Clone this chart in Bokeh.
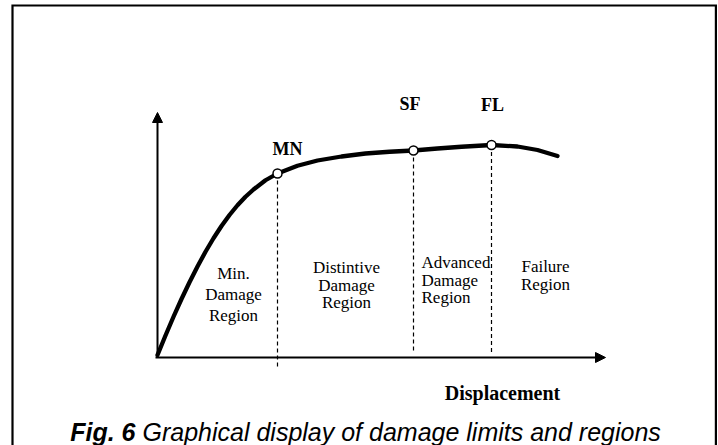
from bokeh.plotting import figure
from bokeh.models import Range1d, Arrow, NormalHead, Label
from bokeh.core.properties import value
from bokeh.embed import file_html
from bokeh.resources import INLINE

# ---- data (schematic capacity curve, arbitrary units) ----
displacement = [0, 2, 4, 6, 8, 10, 12, 14, 16, 18, 20, 22, 24, 27, 30, 35, 40, 46, 52, 58, 64, 70, 76, 83.5, 90, 95, 100]
force = [1, 8.8, 16.3, 23.4, 30.1, 36.4, 42.3, 47.7, 52.6, 57.0, 60.9, 64.3, 67.2, 70.9, 73.6, 76.7, 78.8, 80.4, 81.6, 82.3, 82.8, 83.6, 84.3, 85.0, 84.4, 83.0, 80.6]

limit_names = ["MN", "SF", "FL"]
limit_disp = [30, 64, 83.5]
limit_force = [73.6, 82.8, 85.0]
limit_dash_bottom = [-4, 1.6, 1.6]
limit_label_x = [32.5, 63.1, 83.75]
limit_label_y = [83.3, 101.5, 101.2]

axis_x_end = 112
axis_y_end = 98

# region labels, one entry per text line
region_lines = ["Min.", "Damage", "Region",
                "Distintive", "Damage", "Region",
                "Failure", "Region"]
region_x = [19, 19, 19, 47.25, 47.25, 47.25, 97, 97]
region_y = [33.6, 25.4, 16.8, 36.0, 29.0, 22.0, 36.4, 29.4]

adv_lines = ["Advanced", "Damage", "Region"]
adv_x = [66, 66, 66]
adv_y = [38.0, 31.0, 24.0]

x_title = "Displacement"
caption_bold = "Fig. 6"
caption_rest = "Graphical display of damage limits and regions"

# frame (decorative border, open at the bottom like the cropped original)
frame_x = [-36.25, -36.25, 139.6, 139.6]
frame_y = [-60, 140.8, 140.8, -60]

# ---- figure ----
p = figure(width=718, height=445, output_backend="svg", toolbar_location=None,
           x_range=Range1d(-39.25, 140.25), y_range=Range1d(-35.2, 142.8),
           x_axis_type=None, y_axis_type=None, min_border=0)
p.grid.visible = False
p.outline_line_color = None
p.background_fill_color = "white"
p.border_fill_color = "white"

p.line(frame_x, frame_y, line_color="black", line_width=2.2, line_join="miter")

# axes arrows
p.add_layout(Arrow(end=NormalHead(size=10, fill_color="black", line_color="black"),
                   x_start=0, y_start=0, x_end=0, y_end=axis_y_end,
                   line_width=2, line_color="black"))
p.add_layout(Arrow(end=NormalHead(size=10, fill_color="black", line_color="black"),
                   x_start=-0.5, y_start=0, x_end=axis_x_end, y_end=0,
                   line_width=2, line_color="black"))

# dashed limit lines
p.segment(x0=limit_disp, y0=limit_force, x1=limit_disp, y1=limit_dash_bottom,
          line_color="black", line_width=1.2, line_dash="4 3")

# curve
p.line(displacement, force, line_color="black", line_width=4.3, line_join="round", line_cap="round")

# limit points
p.scatter(limit_disp, limit_force, size=9, fill_color="white", line_color="black", line_width=1.5)

serif = value("Liberation Serif")
p.text(x=limit_label_x, y=limit_label_y, text=limit_names, text_font=serif,
       text_font_size=value("18px"), text_font_style="bold",
       text_align="center", text_baseline="middle", text_color="black")

p.text(x=region_x, y=region_y, text=region_lines, text_font=serif,
       text_font_size=value("17px"), text_align="center", text_baseline="middle",
       text_color="black")
p.text(x=adv_x, y=adv_y, text=adv_lines, text_font=serif,
       text_font_size=value("17px"), text_align="left", text_baseline="middle",
       text_color="black")

p.add_layout(Label(x=86.25, y=-14, text=x_title, text_font="Liberation Serif",
                   text_font_size="20px", text_font_style="bold",
                   text_align="center", text_baseline="middle", text_color="black"))

sans = value("Liberation Sans")
p.text(x=[-5.5], y=[-29.6], text=[caption_bold], text_font=sans,
       text_font_size=value("25px"), text_font_style="bold italic",
       text_align="right", text_baseline="alphabetic", text_color="black")
p.text(x=[-5.5], y=[-29.6], text=[caption_rest], text_font=sans, x_offset=7,
       text_font_size=value("25px"), text_font_style="italic",
       text_align="left", text_baseline="alphabetic", text_color="black")

open("out.html", "w").write(file_html(p, INLINE))
